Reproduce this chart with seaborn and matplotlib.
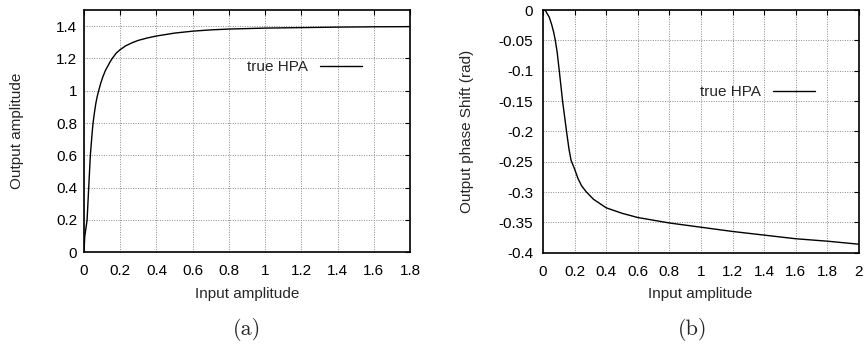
import numpy as np
import seaborn as sns
import matplotlib.pyplot as plt

# Data (AM/AM and AM/PM curves of the HPA)
amp_in = [0, 0.004, 0.017, 0.026, 0.035, 0.045, 0.05, 0.057, 0.065, 0.073, 0.081, 0.092,
          0.104, 0.118, 0.13, 0.143, 0.156, 0.177, 0.2, 0.23, 0.267, 0.3, 0.35, 0.4,
          0.5, 0.6, 0.7, 0.8, 1.0, 1.2, 1.4, 1.6, 1.8]
amp_out = [0, 0.096, 0.2, 0.4, 0.6, 0.74, 0.8, 0.86, 0.92, 0.965, 1.0, 1.045,
           1.086, 1.125, 1.15, 1.177, 1.2, 1.232, 1.255, 1.278, 1.298, 1.312, 1.327, 1.339,
           1.357, 1.369, 1.377, 1.382, 1.388, 1.391, 1.394, 1.396, 1.397]

ph_in = [0, 0.013, 0.02, 0.04, 0.055, 0.068, 0.078, 0.09, 0.103, 0.124, 0.149, 0.165,
         0.178, 0.2, 0.222, 0.245, 0.275, 0.32, 0.4, 0.5, 0.6, 0.8, 1.0, 1.2, 1.4,
         1.6, 1.8, 2.0]
ph_out = [0, 0, -0.003, -0.012, -0.024, -0.037, -0.05, -0.07, -0.1, -0.15, -0.2, -0.23,
          -0.248, -0.262, -0.278, -0.29, -0.3, -0.312, -0.326, -0.335, -0.342, -0.351,
          -0.358, -0.365, -0.371, -0.377, -0.381, -0.386]

xticks_a = [0, 0.2, 0.4, 0.6, 0.8, 1.0, 1.2, 1.4, 1.6, 1.8]
xlabels_a = ['0', '0.2', '0.4', '0.6', '0.8', '1', '1.2', '1.4', '1.6', '1.8']
yticks_a = [0, 0.2, 0.4, 0.6, 0.8, 1.0, 1.2, 1.4]
ylabels_a = ['0', '0.2', '0.4', '0.6', '0.8', '1', '1.2', '1.4']

xticks_b = [0, 0.2, 0.4, 0.6, 0.8, 1.0, 1.2, 1.4, 1.6, 1.8, 2.0]
xlabels_b = ['0', '0.2', '0.4', '0.6', '0.8', '1', '1.2', '1.4', '1.6', '1.8', '2']
yticks_b = [-0.4, -0.35, -0.3, -0.25, -0.2, -0.15, -0.1, -0.05, 0]
ylabels_b = ['-0.4', '-0.35', '-0.3', '-0.25', '-0.2', '-0.15', '-0.1', '-0.05', '0']

sns.set_style('white')
plt.rcParams['font.family'] = ['Liberation Sans', 'DejaVu Sans']
plt.rcParams['font.size'] = 11

fig = plt.figure(figsize=(8.66, 3.45), dpi=100)
ax_a = fig.add_axes([0.097, 0.2687, 0.3764, 0.7023])
ax_b = fig.add_axes([0.627, 0.2675, 0.3649, 0.7035])


def style_axes(ax, xt, xl, yt, yl, ypad):
    ax.set_xticks(xt)
    ax.set_xticklabels(xl)
    ax.set_yticks(yt)
    ax.set_yticklabels(yl)
    ax.tick_params(direction='in', length=3.5, width=0.8, top=True, right=True,
                   labelsize=11, colors='black')
    ax.tick_params(axis='x', pad=8.5)
    ax.tick_params(axis='y', pad=ypad)
    ax.grid(True, color='#8a8a8a', linestyle=(0, (1, 1.5)), linewidth=0.7)
    for s in ax.spines.values():
        s.set_color('black')
        s.set_linewidth(1.2)
    ax.set_xlabel('')
    ax.set_ylabel('')


sns.lineplot(x=amp_in, y=amp_out, ax=ax_a, color='black', linewidth=1.0, label='true HPA')
ax_a.set_xlim(0, 1.8)
ax_a.set_ylim(0, 1.5)
style_axes(ax_a, xticks_a, xlabels_a, yticks_a, ylabels_a, 5)
ax_a.legend(frameon=False, markerfirst=False, handlelength=2.7, handletextpad=0.8,
            fontsize=11, loc='center', bbox_to_anchor=(0.676, 0.765))

sns.lineplot(x=ph_in, y=ph_out, ax=ax_b, color='black', linewidth=1.0, label='true HPA')
ax_b.set_xlim(0, 2)
ax_b.set_ylim(-0.4, 0)
style_axes(ax_b, xticks_b, xlabels_b, yticks_b, ylabels_b, 7)
ax_b.legend(frameon=False, markerfirst=False, handlelength=2.7, handletextpad=0.8,
            fontsize=11, loc='center', bbox_to_anchor=(0.679, 0.662))

# axis titles
fig.text(0.285, 0.148, 'Input amplitude', ha='center', va='center', fontsize=11)
fig.text(0.809, 0.148, 'Input amplitude', ha='center', va='center', fontsize=11)
fig.text(0.0202, 0.620, 'Output amplitude', rotation=90, ha='center', va='center', fontsize=11)
fig.text(0.539, 0.619, 'Output phase Shift (rad)', rotation=90, ha='center', va='center', fontsize=11)

# sub-figure captions
fig.text(0.285, 0.0435, '(a)', ha='center', va='center', fontsize=16, family='cmr10')
fig.text(0.800, 0.0435, '(b)', ha='center', va='center', fontsize=16, family='cmr10')

fig.savefig('out.png', dpi=100)
